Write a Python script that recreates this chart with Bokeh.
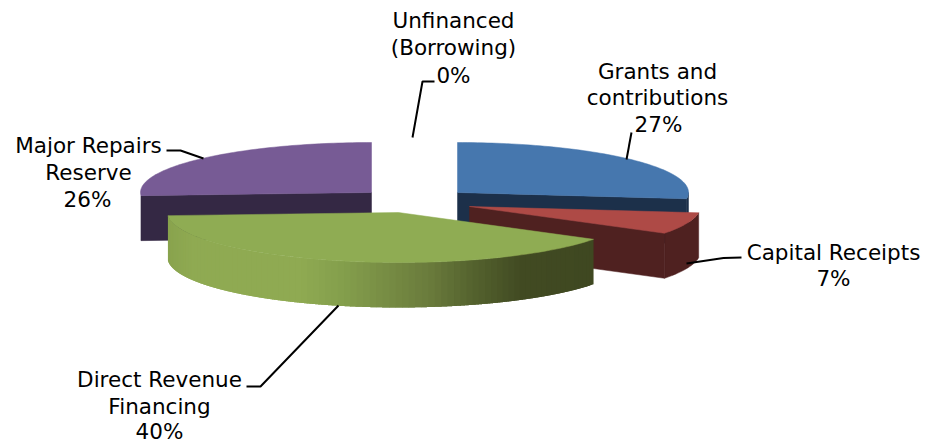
import numpy as np
from bokeh.plotting import figure
from bokeh.models import Range1d
from bokeh.core.properties import value
from bokeh.embed import file_html
from bokeh.resources import INLINE

# data
categories = ["Grants and contributions", "Capital Receipts", "Direct Revenue Financing",
              "Major Repairs Reserve", "Unfinanced (Borrowing)"]
shares = [27, 7, 40, 26, 0]

# styles and layout of the exploded 3D pie (page pixels)
W, H = 927, 443
RX, RY, DEPTH = 231, 50, 45
apex = {"Grants and contributions": (457, 192), "Capital Receipts": (469, 206),
        "Direct Revenue Financing": (398, 212), "Major Repairs Reserve": (371, 192)}
top_col = {"Grants and contributions": "#4677AE", "Capital Receipts": "#AE4A46",
           "Direct Revenue Financing": "#8FAC53", "Major Repairs Reserve": "#775B95"}
side_col = {"Grants and contributions": "#1C304A", "Capital Receipts": "#4F2120",
            "Major Repairs Reserve": "#342844"}
FONT = "DejaVu Sans"
FS = "21.5px"
GREEN_X = [167, 190, 300, 340, 430, 470, 520, 600]
GREEN_RGB = [(137, 163, 78), (143, 170, 82), (143, 170, 82), (133, 160, 77),
             (106, 123, 60), (86, 100, 47), (66, 75, 35), (63, 72, 33)]

label_lines = [
    ("Unfinanced", 453, 20), ("(Borrowing)", 453, 47), ("0%", 453, 75),
    ("Grants and", 657, 71), ("contributions", 657, 97), ("27%", 658, 124),
    ("Major Repairs", 88, 145), ("Reserve", 88, 172), ("26%", 87, 199),
    ("Direct Revenue", 159, 379), ("Financing", 159, 406), ("40%", 159, 431),
    ("Capital Receipts", 833, 252), ("7%", 833, 278),
]
leaders = [
    ([434, 422, 412], [81, 81, 137]),
    ([631, 626], [132, 159]),
    ([166, 180, 203], [150, 150, 158]),
    ([246, 260, 338], [386, 386, 305]),
    ([741, 723, 686], [257, 257.5, 263]),
]

p = figure(width=W, height=H, x_range=Range1d(0, W), y_range=Range1d(H, 0),
           output_backend="svg", toolbar_location=None, min_border=0,
           background_fill_color="white", border_fill_color="white")
p.axis.visible = False
p.grid.visible = False
p.outline_line_color = None

total = sum(shares)
edges = np.concatenate([[0], np.cumsum(shares)]) / total * 2 * np.pi
ang = {c: (edges[i], edges[i + 1]) for i, c in enumerate(categories)}


def rim(c, t):
    cx, cy = apex[c]
    return cx + RX * np.sin(t), cy - RY * np.cos(t)


def band(c, t0, t1, col, lw=0.5):
    t = np.linspace(t0, t1, 40)
    x, y = rim(c, t)
    p.patch(np.r_[x, x[::-1]], np.r_[y, y[::-1] + DEPTH], fill_color=col,
            line_color=col if lw else None, line_width=lw or 1)


def cut(c, t, col):
    cx, cy = apex[c]
    x, y = rim(c, t)
    p.patch([cx, x, x, cx], [cy, y, y + DEPTH, cy + DEPTH], fill_color=col, line_color=col, line_width=0.5)


def top(c):
    t0, t1 = ang[c]
    cx, cy = apex[c]
    t = np.linspace(t0, t1, 80)
    x, y = rim(c, t)
    p.patch(np.r_[cx, x], np.r_[cy, y], fill_color=top_col[c], line_color=top_col[c], line_width=0.5)


# back to front
blue, red, green, purple = categories[0], categories[1], categories[2], categories[3]

cut(blue, ang[blue][1], side_col[blue])
band(blue, np.pi / 2, ang[blue][1], side_col[blue])
top(blue)

cut(purple, ang[purple][0], side_col[purple])
top(purple)

band(red, ang[red][0], ang[red][1], side_col[red])
cut(red, ang[red][1], side_col[red])
top(red)

# green rim with a light-to-dark shading across its width
t_edges = np.linspace(ang[green][0], ang[green][1], 90)
for a, b in zip(t_edges[:-1], t_edges[1:]):
    xm = rim(green, (a + b) / 2)[0]
    rgb = [int(np.interp(xm, GREEN_X, [c[k] for c in GREEN_RGB])) for k in range(3)]
    band(green, a, min(b + 0.03, ang[green][1]), "#%02X%02X%02X" % tuple(rgb), lw=0)
top(green)

for lx, ly in leaders:
    p.line(lx, ly, line_color="black", line_width=2)

p.text(x=[l[1] for l in label_lines], y=[l[2] for l in label_lines], text=[l[0] for l in label_lines],
       text_font=value(FONT), text_font_size=value(FS), text_color="black",
       text_align="center", text_baseline="middle")

open("out.html", "w").write(file_html(p, INLINE))
